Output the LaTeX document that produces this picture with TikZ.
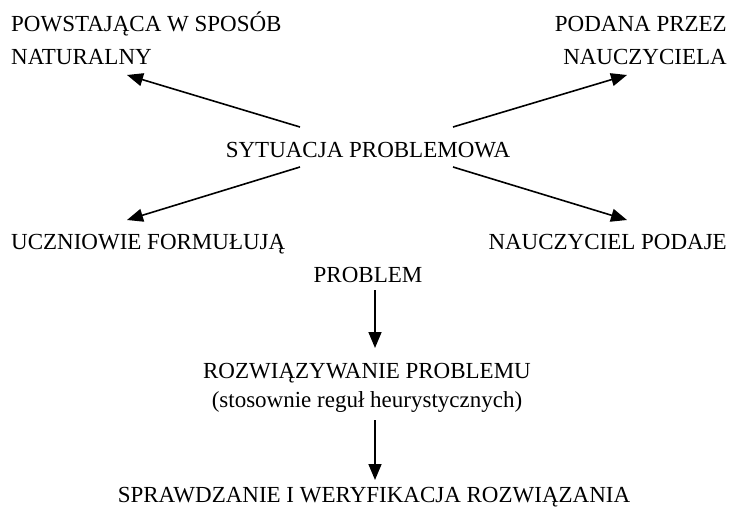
\documentclass[tikz,border=0pt]{standalone}
\usepackage{fontspec}
\setmainfont{Liberation Serif}
\usetikzlibrary{arrows.meta}
\begin{document}
\begin{tikzpicture}[x=1pt,y=-1pt,
  lbl/.style={inner sep=0pt,font=\fontsize{23}{28}\selectfont},
  arr/.style={line width=1.6pt,-{Triangle[length=16pt,width=13pt]}}]
\useasboundingbox[fill=white] (0,0) rectangle (730,508);
\node[lbl,anchor=base west] (pow1) at (11,32) {POWSTAJĄCA W SPOSÓB};
\node[lbl,anchor=base west] (pow2) at (11,65) {NATURALNY};
\node[lbl,anchor=base east] (pod1) at (727,32) {PODANA PRZEZ};
\node[lbl,anchor=base east] (pod2) at (727,65) {NAUCZYCIELA};
\node[lbl,anchor=base] (sit) at (368,157) {SYTUACJA PROBLEMOWA};
\node[lbl,anchor=base west] (ucz) at (11,249) {UCZNIOWIE FORMUŁUJĄ};
\node[lbl,anchor=base] (prob) at (368,282) {PROBLEM};
\node[lbl,anchor=base east] (nau) at (727,249) {NAUCZYCIEL PODAJE};
\node[lbl,anchor=base] (roz) at (367,378) {ROZWIĄZYWANIE PROBLEMU};
\node[lbl,anchor=base] (sto) at (367,407) {(stosownie reguł heurystycznych)};
\node[lbl,anchor=base] (spr) at (374,502) {SPRAWDZANIE I WERYFIKACJA ROZWIĄZANIA};
% connector ends
\coordinate (ulS) at (300,127);
\coordinate (ulE) at (127,75);
\coordinate (urS) at (453,127);
\coordinate (urE) at (627,75);
\coordinate (llS) at (300,167);
\coordinate (llE) at (127,220);
\coordinate (lrS) at (453,167);
\coordinate (lrE) at (627,220);
\coordinate (v1S) at (375,290);
\coordinate (v1E) at (375,348);
\coordinate (v2S) at (375,420);
\coordinate (v2E) at (375,480);
\draw[arr] (ulS) -- (ulE);
\draw[arr] (urS) -- (urE);
\draw[arr] (llS) -- (llE);
\draw[arr] (lrS) -- (lrE);
\draw[arr] (v1S) -- (v1E);
\draw[arr] (v2S) -- (v2E);
\end{tikzpicture}
\end{document}
